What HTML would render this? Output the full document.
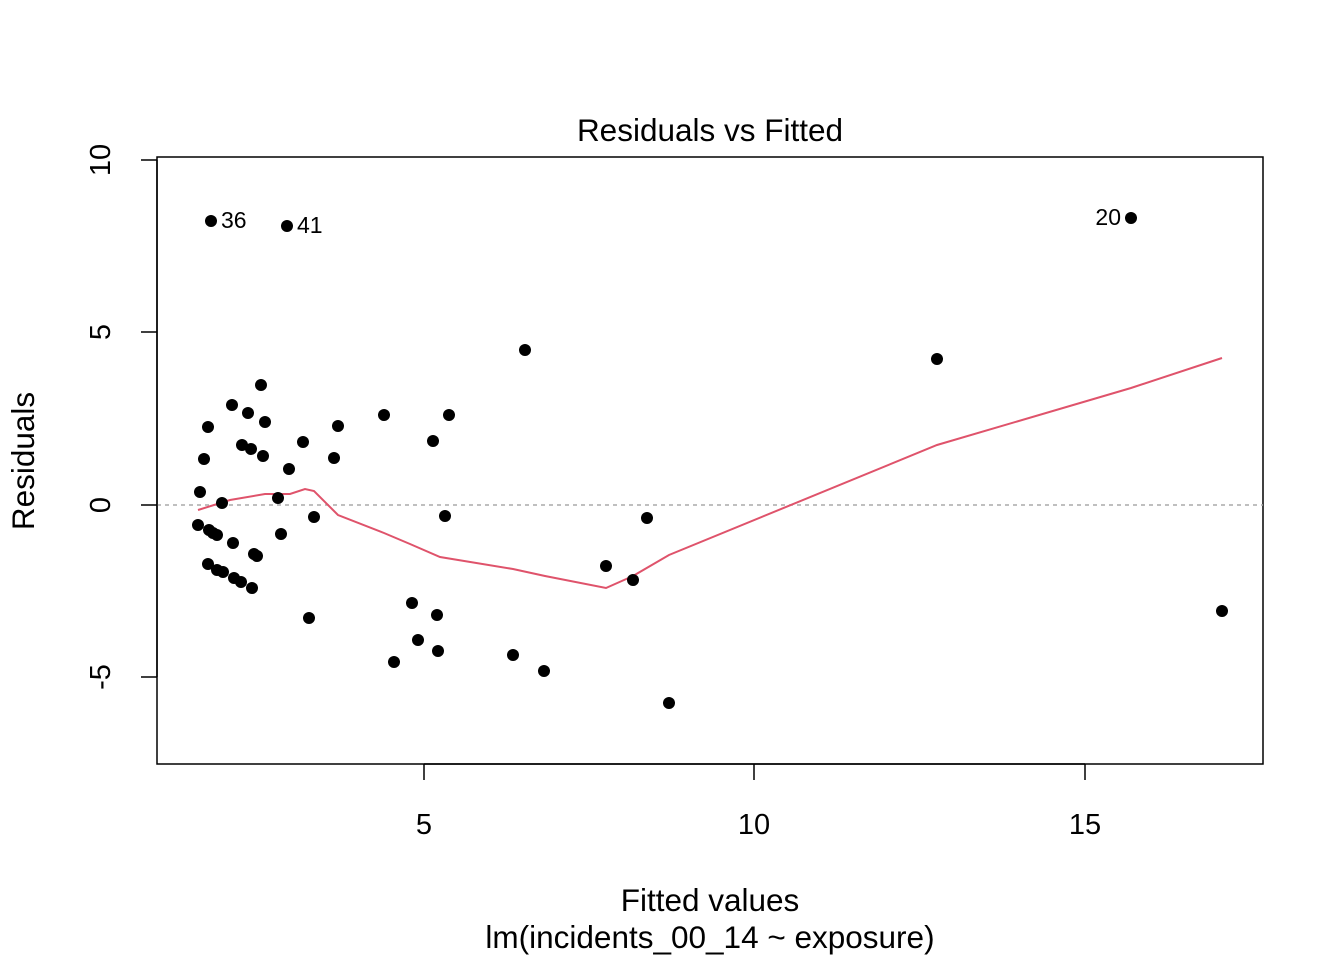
<!DOCTYPE html>
<html><head><meta charset="utf-8"><style>body{margin:0;background:#fff}</style></head><body>
<svg width="1344" height="960" xmlns="http://www.w3.org/2000/svg" font-family="Liberation Sans, Arial, sans-serif">
<rect width="1344" height="960" fill="#fff"/>
<rect x="157" y="157" width="1106" height="607" fill="none" stroke="#000" stroke-width="1.5"/>
<line x1="157" y1="505" x2="1263" y2="505" stroke="#aaa" stroke-width="1.5" stroke-dasharray="4,4"/>
<g stroke="#000" stroke-width="1.5">
<line x1="424" y1="764" x2="424" y2="780"/><line x1="754" y1="764" x2="754" y2="780"/><line x1="1085" y1="764" x2="1085" y2="780"/>
<line x1="424" y1="764" x2="1085" y2="764"/>
<line x1="141" y1="160" x2="157" y2="160"/><line x1="141" y1="332" x2="157" y2="332"/><line x1="141" y1="505" x2="157" y2="505"/><line x1="141" y1="677" x2="157" y2="677"/>
<line x1="157" y1="160" x2="157" y2="677"/>
</g>
<g font-size="29" text-anchor="middle">
<text x="424" y="834">5</text><text x="754" y="834">10</text><text x="1085" y="834">15</text>
<text transform="translate(110,160) rotate(-90)">10</text>
<text transform="translate(110,332) rotate(-90)">5</text>
<text transform="translate(110,505) rotate(-90)">0</text>
<text transform="translate(110,677) rotate(-90)">-5</text>
<text x="710" y="141" font-size="31.5">Residuals vs Fitted</text>
<text x="710" y="911" font-size="31.5">Fitted values</text>
<text x="710" y="948" font-size="31.5">lm(incidents_00_14 ~ exposure)</text>
<text transform="translate(34,461) rotate(-90)" font-size="31.5">Residuals</text>
</g>
<polyline fill="none" stroke="#DF536B" stroke-width="2" points="198,510 230,500 265,494 290,494 305,489 314,491 338,515 384,533 410,544 440,557 513,569 545,576 606,588 633,576 669,555 937,445 1131,388 1222,358"/>
<g fill="#000">
<circle cx="211" cy="221" r="6"/><circle cx="287" cy="226" r="6"/><circle cx="1131" cy="218" r="6"/><circle cx="525" cy="350" r="6"/><circle cx="937" cy="359" r="6"/><circle cx="261" cy="385" r="6"/><circle cx="232" cy="405" r="6"/><circle cx="248" cy="413" r="6"/><circle cx="265" cy="422" r="6"/><circle cx="208" cy="427" r="6"/><circle cx="384" cy="415" r="6"/><circle cx="449" cy="415" r="6"/><circle cx="338" cy="426" r="6"/><circle cx="303" cy="442" r="6"/><circle cx="433" cy="441" r="6"/><circle cx="242" cy="445" r="6"/><circle cx="251" cy="449" r="6"/><circle cx="263" cy="456" r="6"/><circle cx="204" cy="459" r="6"/><circle cx="334" cy="458" r="6"/><circle cx="289" cy="469" r="6"/><circle cx="200" cy="492" r="6"/><circle cx="222" cy="503" r="6"/><circle cx="278" cy="498" r="6"/><circle cx="198" cy="525" r="6"/><circle cx="209" cy="530" r="6"/><circle cx="213" cy="533" r="6"/><circle cx="217" cy="535" r="6"/><circle cx="314" cy="517" r="6"/><circle cx="445" cy="516" r="6"/><circle cx="647" cy="518" r="6"/><circle cx="281" cy="534" r="6"/><circle cx="233" cy="543" r="6"/><circle cx="254" cy="554" r="6"/><circle cx="257" cy="556" r="6"/><circle cx="208" cy="564" r="6"/><circle cx="217" cy="570" r="6"/><circle cx="223" cy="572" r="6"/><circle cx="234" cy="578" r="6"/><circle cx="241" cy="582" r="6"/><circle cx="252" cy="588" r="6"/><circle cx="606" cy="566" r="6"/><circle cx="633" cy="580" r="6"/><circle cx="412" cy="603" r="6"/><circle cx="437" cy="615" r="6"/><circle cx="309" cy="618" r="6"/><circle cx="1222" cy="611" r="6"/><circle cx="418" cy="640" r="6"/><circle cx="438" cy="651" r="6"/><circle cx="394" cy="662" r="6"/><circle cx="513" cy="655" r="6"/><circle cx="544" cy="671" r="6"/><circle cx="669" cy="703" r="6"/>
</g>
<g font-size="23">
<text x="221" y="228">36</text><text x="297" y="233">41</text><text x="1121" y="225" text-anchor="end">20</text>
</g>
</svg>
</body></html>
